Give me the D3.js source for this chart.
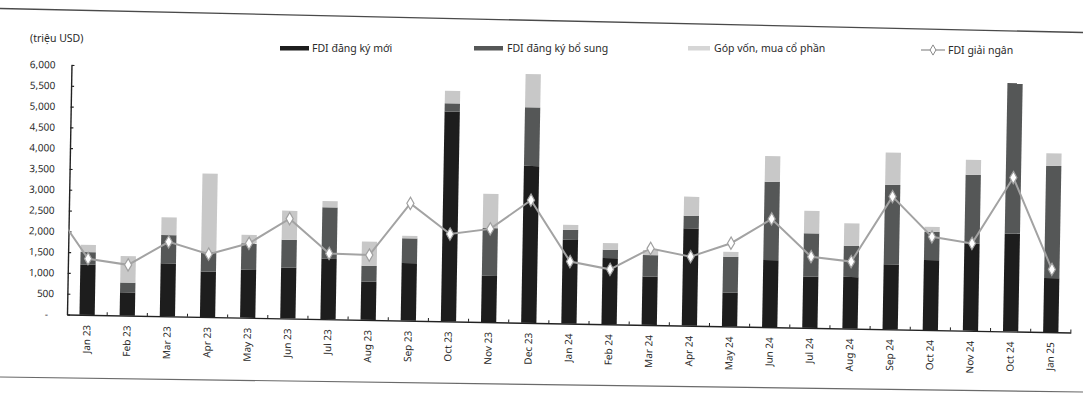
<!DOCTYPE html>
<html>
<head>
<meta charset="utf-8">
<script src="https://cdn.jsdelivr.net/npm/d3@7"></script>
<style>
  html, body { margin: 0; padding: 0; background: #ffffff; }
  svg { display: block; font-family: "Noto Sans", "Open Sans", sans-serif; }
</style>
</head>
<body>
<svg id="chart" width="1083" height="394"></svg>
<script>
// Monthly FDI into Vietnam, million USD
const months = ["Jan 23","Feb 23","Mar 23","Apr 23","May 23","Jun 23","Jul 23","Aug 23","Sep 23","Oct 23","Nov 23","Dec 23",
                "Jan 24","Feb 24","Mar 24","Apr 24","May 24","Jun 24","Jul 24","Aug 24","Sep 24","Oct 24","Nov 24","Oct 24 ","Jan 25"];
const monthLabels = ["Jan 23","Feb 23","Mar 23","Apr 23","May 23","Jun 23","Jul 23","Aug 23","Sep 23","Oct 23","Nov 23","Dec 23",
                "Jan 24","Feb 24","Mar 24","Apr 24","May 24","Jun 24","Jul 24","Aug 24","Sep 24","Oct 24","Nov 24","Oct 24","Jan 25"];
const newRegistered = [1210, 560, 1270, 1090, 1150, 1220, 1450, 920, 1380, 5040, 1110, 3770,
                       2010, 1590, 1160, 2340, 810, 1610, 1230, 1240, 1560, 1680, 2100, 2350, 1300];
const addRegistered = [300, 230, 680, 480, 640, 670, 1240, 380, 600, 200, 1150, 1410,
                       240, 200, 520, 300, 860, 1880, 1040, 750, 1910, 680, 1650, 3620, 2700];
const sharePurchase = [170, 640, 430, 1880, 200, 700, 150, 580, 60, 300, 820, 800,
                       120, 160, 120, 460, 120, 620, 540, 540, 780, 120, 360, 0, 300];
const disbursed = [1350, 1220, 1790, 1510, 1790, 2400, 1580, 1560, 2820, 2100, 2240, 2950,
                   1490, 1320, 1840, 1660, 2000, 2600, 1710, 1610, 3190, 2240, 2100, 3700, 1510];
const disbursedDec22 = 2700;   // month before the range; only its segment into Jan 23 shows
const yTicks = [0, 500, 1000, 1500, 2000, 2500, 3000, 3500, 4000, 4500, 5000, 5500, 6000];
const seriesNames = ["FDI đăng ký mới", "FDI đăng ký bổ sung", "Góp vốn, mua cổ phần", "FDI giải ngân"];

const colors = { newReg: "#1d1d1d", addReg: "#555757", share: "#c8c8c8", line: "#a3a3a3" };

const svg = d3.select("#chart");

// page rules above and below the figure
svg.append("line").attr("x1", 0).attr("y1", 8.5).attr("x2", 1083).attr("y2", 32.5)
   .attr("stroke", "#4a4a4a").attr("stroke-width", 1.3);
svg.append("line").attr("x1", 0).attr("y1", 377).attr("x2", 1083).attr("y2", 392)
   .attr("stroke", "#6a6a6a").attr("stroke-width", 1.2);

// unit label
svg.append("text").attr("x", 30).attr("y", 42).attr("font-size", 10.5).attr("fill", "#2a2a2a")
   .text("(triệu USD)");

// plot area, tilted slightly as on the printed page
const ox = 67, oTop = 64.9, W = 1004, H = 249.6, tilt = 1.03;
const g = svg.append("g")
  .attr("transform", `translate(${ox},${oTop}) rotate(${tilt},0,${H})`);

const x = d3.scaleBand().domain(months).range([0, W]).paddingInner(0.62).paddingOuter(0.31);
const y = d3.scaleLinear().domain([0, 6000]).range([H, 0]);

// stacked bars (empty segments skipped)
const rows = months.map((m, i) => ({ m, newReg: newRegistered[i], addReg: addRegistered[i], share: sharePurchase[i] }));
const stack = d3.stack().keys(["newReg", "addReg", "share"]);
const layers = stack(rows);
g.append("g").selectAll("g").data(layers).join("g")
  .attr("fill", d => colors[d.key])
  .selectAll("rect").data(d => d.filter(s => s[1] > s[0])).join("rect")
  .attr("x", d => x(d.data.m))
  .attr("width", x.bandwidth())
  .attr("y", d => y(d[1]))
  .attr("height", d => y(d[0]) - y(d[1]));

// y axis
const yAxis = d3.axisLeft(y).tickValues(yTicks).tickSizeInner(-3).tickSizeOuter(0).tickPadding(13)
  .tickFormat(d => d === 0 ? "-" : d3.format(",")(d));
const yg = g.append("g").call(yAxis);
yg.select(".domain").attr("stroke", "#222").attr("stroke-width", 1.4);
yg.selectAll(".tick line").attr("stroke", "#222").attr("stroke-width", 1.2);
yg.selectAll(".tick text").attr("font-size", 10).attr("fill", "#2a2a2a")
  .attr("font-family", "'Noto Sans', sans-serif")
  .attr("dx", d => d === 0 ? -6 : -(d / 6000) * 3);

// x axis with labels turned vertical and small ticks at the band edges
const xAxis = d3.axisBottom(x).tickSize(0).tickPadding(0).tickFormat((d, i) => monthLabels[i]);
const xg = g.append("g").attr("transform", `translate(0,${H})`).call(xAxis);
xg.select(".domain").attr("stroke", "#222").attr("stroke-width", 1.4);
xg.selectAll(".tick text")
  .attr("font-size", 10).attr("fill", "#2a2a2a")
  .attr("font-family", "'Noto Sans', sans-serif")
  .attr("text-anchor", "end")
  .attr("transform", "rotate(-90)")
  .attr("x", -10).attr("y", 0).attr("dy", "0.35em");
const edges = d3.range(1, months.length + 1).map(i => i * x.step());
g.append("g").selectAll("line").data(edges).join("line")
  .attr("x1", d => d).attr("x2", d => d)
  .attr("y1", H).attr("y2", H - 3)
  .attr("stroke", "#222").attr("stroke-width", 1);

// disbursement line, starting from the previous month off the left edge
g.append("clipPath").attr("id", "plotClip")
  .append("rect").attr("x", 0).attr("y", -10).attr("width", W + 10).attr("height", H + 10);
const cx = (i) => x(months[i]) + x.bandwidth() / 2;
const linePts = [[cx(0) - x.step(), y(disbursedDec22)]].concat(disbursed.map((v, i) => [cx(i), y(v)]));
g.append("path")
  .attr("clip-path", "url(#plotClip)")
  .attr("d", d3.line()(linePts))
  .attr("fill", "none").attr("stroke", colors.line).attr("stroke-width", 2);
const diamond = d3.symbol().type(d3.symbolDiamond).size(44);
g.append("g").selectAll("path").data(disbursed).join("path")
  .attr("transform", (d, i) => `translate(${cx(i)},${y(d)})`)
  .attr("d", diamond)
  .attr("fill", "#ffffff").attr("stroke", "#a0a0a0").attr("stroke-width", 1.2);

// legend
const legend = svg.append("g").attr("font-size", 10.5).attr("fill", "#2a2a2a");
const swatches = [
  { x: 280, w: 29, c: colors.newReg, tx: 312, label: seriesNames[0] },
  { x: 474, w: 29, c: colors.addReg, tx: 507, label: seriesNames[1] },
  { x: 688, w: 22, c: "#d6d6d6", tx: 714, label: seriesNames[2] }
];
swatches.forEach(s => {
  legend.append("rect").attr("x", s.x).attr("y", 46).attr("width", s.w).attr("height", 4.5).attr("fill", s.c);
  legend.append("text").attr("x", s.tx).attr("y", 52).text(s.label);
});
legend.append("line").attr("x1", 921).attr("x2", 945).attr("y1", 50).attr("y2", 50)
  .attr("stroke", colors.line).attr("stroke-width", 1.5);
legend.append("path").attr("transform", "translate(933,50)")
  .attr("d", d3.symbol().type(d3.symbolDiamond).size(30))
  .attr("fill", "#fff").attr("stroke", "#8a8a8a").attr("stroke-width", 1);
legend.append("text").attr("x", 948).attr("y", 54).text(seriesNames[3]);
</script>
</body>
</html>
